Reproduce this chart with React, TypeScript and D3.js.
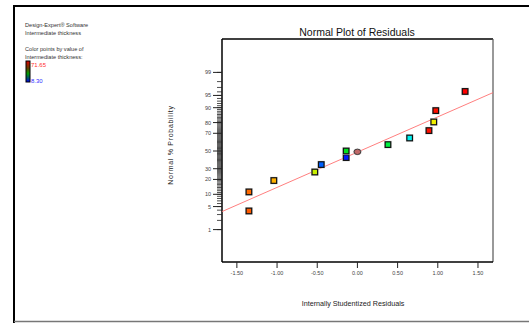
import React from "react";
import * as d3 from "d3";

// residuals and their normal probabilities (%)
const residuals = [-1.35, -1.35, -1.04, -0.53, -0.45, -0.14, -0.14, 0.0, 0.38, 0.65, 0.89, 0.95, 0.975, 1.34];
const probabilities = [3.8, 11.3, 19.1, 26.7, 34.4, 42.3, 50.0, 49.0, 57.5, 65.0, 72.7, 80.5, 88.4, 96.1];
const pointColors = ["#ff5a00", "#ff6a00", "#ffb000", "#c8f000", "#0060ff", "#0018ff", "#00e020", "#c06868", "#00f040", "#00f0f0", "#ff1000", "#f0f000", "#ff1000", "#ff0000"];
const pointShapes = ["s", "s", "s", "s", "s", "s", "s", "c", "s", "s", "s", "s", "s", "s"];

const lineResiduals = [-1.685, 1.687];
const lineProbabilities = [3.65, 95.8];

const xTicks = [-1.5, -1.0, -0.5, 0.0, 0.5, 1.0, 1.5];
const yTickLabels = [1, 5, 10, 20, 30, 50, 70, 80, 90, 95, 99];
const yMinorTicks = d3.range(1, 100);

const legendLines = ["Design-Expert® Software", "Intermediate thickness", "", "Color points by value of", "Intermediate thickness:"];
const legendMax = "71.65";
const legendMin = "8.30";

const W = 529;
const H = 323;
const plot = { left: 222, right: 493, top: 39, bottom: 262 };

// inverse standard normal CDF (Acklam)
function invNorm(p: number): number {
  const a = [-3.969683028665376e1, 2.209460984245205e2, -2.759285104469687e2, 1.38357751867269e2, -3.066479806614716e1, 2.506628277459239];
  const b = [-5.447609879822406e1, 1.615858368580409e2, -1.556989798598866e2, 6.680131188771972e1, -1.328068155288572e1];
  const c = [-7.784894002430293e-3, -3.223964580411365e-1, -2.400758277161838, -2.549732539343734, 4.374664141464968, 2.938163982698783];
  const dd = [7.784695709041462e-3, 3.224671290700398e-1, 2.445134137142996, 3.754408661907416];
  const pl = 0.02425;
  if (p < pl) {
    const q = Math.sqrt(-2 * Math.log(p));
    return (((((c[0] * q + c[1]) * q + c[2]) * q + c[3]) * q + c[4]) * q + c[5]) / ((((dd[0] * q + dd[1]) * q + dd[2]) * q + dd[3]) * q + 1);
  }
  if (p > 1 - pl) {
    const q = Math.sqrt(-2 * Math.log(1 - p));
    return -(((((c[0] * q + c[1]) * q + c[2]) * q + c[3]) * q + c[4]) * q + c[5]) / ((((dd[0] * q + dd[1]) * q + dd[2]) * q + dd[3]) * q + 1);
  }
  const q = p - 0.5;
  const r = q * q;
  return ((((((a[0] * r + a[1]) * r + a[2]) * r + a[3]) * r + a[4]) * r + a[5]) * q) / (((((b[0] * r + b[1]) * r + b[2]) * r + b[3]) * r + b[4]) * r + 1);
}
const z = (p: number) => invNorm(p / 100);

export default function App() {
  const x = d3.scaleLinear().domain([-1.685, 1.687]).range([plot.left, plot.right]);
  const y = d3.scaleLinear().domain([-3.3, 3.3]).range([plot.bottom + 0.5, plot.top + 0.5]);
  const font = "'Liberation Sans', Arial, sans-serif";
  const lineGen = d3
    .line<number>()
    .x((d, i) => x(lineResiduals[i]))
    .y((d) => y(z(d)));

  return (
    <svg
      width={W}
      height={H}
      style={{ position: "absolute", left: 0, top: 0, background: "#fff" }}
      fontFamily={font}
    >
      <defs>
        <linearGradient id="cbar" x1="0" y1="0" x2="0" y2="1">
          <stop offset="0" stopColor="#e00000" />
          <stop offset="0.35" stopColor="#604000" />
          <stop offset="0.6" stopColor="#00a000" />
          <stop offset="0.85" stopColor="#004080" />
          <stop offset="1" stopColor="#0000ff" />
        </linearGradient>
        <clipPath id="pclip">
          <rect x={plot.left} y={plot.top} width={plot.right - plot.left} height={plot.bottom - plot.top} />
        </clipPath>
      </defs>
      {/* outer frame */}
      <line x1={14} y1={6} x2={W} y2={6} stroke="#000" strokeWidth={2} />
      <line x1={14} y1={5} x2={14} y2={H} stroke="#000" strokeWidth={2} />
      <line x1={14} y1={321.5} x2={W} y2={321.5} stroke="#777" strokeWidth={1.5} />

      {/* legend */}
      {legendLines.map((t, i) =>
        t ? (
          <text key={i} x={25} y={27 + i * 8} fontSize={5.6} fill="#333">
            {t}
          </text>
        ) : null
      )}
      <rect x={26} y={61} width={4} height={21} fill="url(#cbar)" stroke="#000" strokeWidth={1} />
      <text x={31} y={67} fontSize={6} fill="#ff3030">
        {legendMax}
      </text>
      <text x={31} y={82.5} fontSize={6} fill="#3030ff">
        {legendMin}
      </text>

      {/* title */}
      <text x={357} y={36} fontSize={10.5} textAnchor="middle" fill="#111">
        Normal Plot of Residuals
      </text>

      {/* plot box */}
      <line x1={plot.left} y1={plot.top} x2={plot.right} y2={plot.top} stroke="#000" strokeWidth={1.5} />
      <line x1={plot.right} y1={plot.top} x2={plot.right} y2={plot.bottom} stroke="#555" strokeWidth={1.2} />
      <line x1={plot.left} y1={plot.top} x2={plot.left} y2={plot.bottom} stroke="#000" strokeWidth={1.5} />
      <line x1={plot.left} y1={plot.bottom} x2={plot.right} y2={plot.bottom} stroke="#000" strokeWidth={1.5} />

      {/* y ticks */}
      {yMinorTicks.map((p) => (
        <line key={"m" + p} x1={plot.left - 5} x2={plot.left} y1={y(z(p))} y2={y(z(p))} stroke="#222" strokeWidth={0.8} />
      ))}
      {yTickLabels.map((p) => (
        <g key={"y" + p}>
          <line x1={plot.left - 9} x2={plot.left} y1={y(z(p))} y2={y(z(p))} stroke="#222" strokeWidth={1} />
          <text x={211} y={y(z(p)) + 2} fontSize={5.5} textAnchor="end" fill="#444">
            {p}
          </text>
        </g>
      ))}

      {/* x ticks */}
      {xTicks.map((t) => (
        <g key={"x" + t}>
          <line x1={x(t)} x2={x(t)} y1={plot.bottom} y2={plot.bottom + 6} stroke="#222" strokeWidth={1} />
          <text x={x(t)} y={275} fontSize={5.5} textAnchor="middle" fill="#444">
            {t.toFixed(2)}
          </text>
        </g>
      ))}

      {/* axis titles */}
      <text x={353} y={306} fontSize={7.2} textAnchor="middle" fill="#222">
        Internally Studentized Residuals
      </text>
      <text
        transform={`translate(173,145) rotate(-90)`}
        fontSize={7}
        textAnchor="middle"
        fill="#222"
        letterSpacing={0.7}
      >
        Normal % Probability
      </text>

      {/* fit line */}
      <path d={lineGen(lineProbabilities) || ""} stroke="#ff7070" strokeWidth={0.9} fill="none" clipPath="url(#pclip)" />

      {/* points */}
      {residuals.map((r, i) => {
        const cx = x(r);
        const cy = y(z(probabilities[i]));
        if (pointShapes[i] === "c") {
          return (
            <g key={"p" + i}>
              <ellipse cx={cx} cy={cy} rx={4.2} ry={3.4} fill="#ccc" />
              <ellipse cx={cx} cy={cy} rx={3.4} ry={2.7} fill={pointColors[i]} stroke="#333" strokeWidth={0.9} />
            </g>
          );
        }
        return (
          <g key={"p" + i}>
            <rect x={cx - 3.8} y={cy - 3.8} width={7.6} height={7.6} fill="#d4d4d4" />
            <rect x={cx - 2.8} y={cy - 2.8} width={5.6} height={5.6} fill={pointColors[i]} stroke="#111" strokeWidth={1.2} />
          </g>
        );
      })}
    </svg>
  );
}
